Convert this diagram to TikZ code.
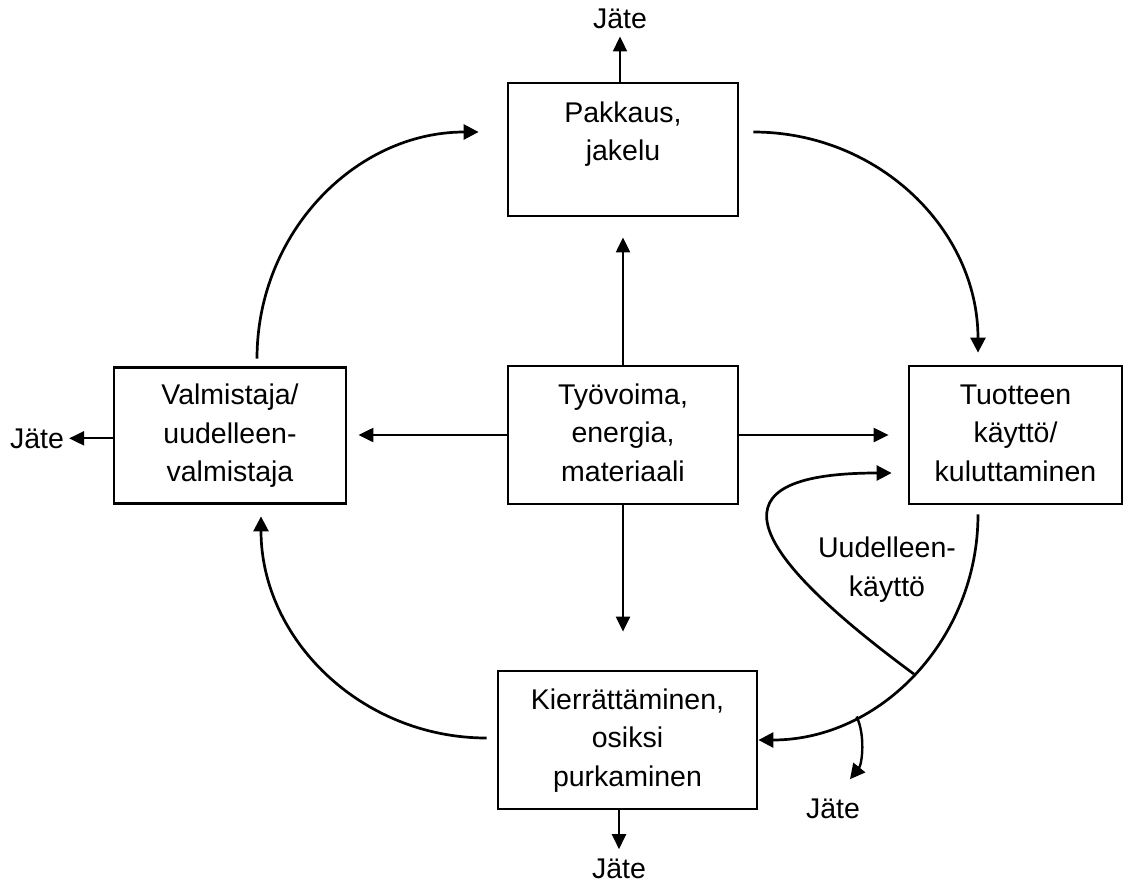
\documentclass[tikz,border=0pt]{standalone}
\usepackage{fontspec}
\setmainfont{Liberation Sans}
\usetikzlibrary{arrows.meta}
\begin{document}
\begin{tikzpicture}[x=1pt,y=-1pt,
  txt/.style={font=\fontsize{28.5}{38.5}\selectfont},
  box/.style={txt,draw,line width=2.8pt,inner sep=0pt,align=center},
  lbl/.style={txt,inner sep=0pt},
  flow/.style={line width=2.2pt,-{Triangle[length=15pt,width=14pt]}},
  loopline/.style={line width=2.7pt,-{Triangle[length=15pt,width=15pt]}}]
\useasboundingbox (0,0) rectangle (1130,892);

% process boxes
\node[box,minimum width=230pt,minimum height=133pt] (pak) at (623,149.5) {\rule{0pt}{33.6pt}Pakkaus,\\jakelu\\\strut};
\node[box,minimum width=232pt,minimum height=136pt] (val) at (230,435.5) {\strut Valmistaja/\\uudelleen-\\valmistaja\strut};
\node[box,minimum width=230pt,minimum height=138pt] (tyo) at (623,435) {\strut Työvoima,\\energia,\\materiaali\strut};
\node[box,minimum width=213pt,minimum height=138pt] (tuo) at (1015.5,435) {\strut Tuotteen\\käyttö/\\kuluttaminen\strut};
\node[box,minimum width=259pt,minimum height=138pt] (kie) at (627.5,740) {\strut Kierrättäminen,\\osiksi\\purkaminen\strut};

% waste labels and reuse label
\node[lbl,anchor=base] (j1) at (620,28) {Jäte};
\node[lbl,anchor=base] (j2) at (37,448) {Jäte};
\node[lbl,anchor=base] (j3) at (619,878) {Jäte};
\node[lbl,anchor=base] (j4) at (833,818) {Jäte};
\node[lbl,align=center] (reu) at (887,569.5) {\strut Uudelleen-\\käyttö\strut};

% inputs from the centre box
\draw[flow,shorten >=20pt] (tyo.north) -- (tyo.north |- pak.south);
\draw[flow,shorten >=11pt] (tyo.west) -- (val.east |- tyo.west);
\draw[flow,shorten >=19pt] (tyo.east) -- (tuo.west |- tyo.east);
\draw[flow,shorten >=38pt] (tyo.south) -- (tyo.south |- kie.north);

% waste outputs
\draw[flow,shorten >=8pt] (j1.south |- pak.north) -- (j1.south);
\draw[flow,shorten >=5pt] (j2.east -| val.west) -- (j2.east);
\draw[flow,shorten >=9pt] (j3.north |- kie.south) -- (j3.north);

% life cycle loop
\draw[loopline] ([shift={(27,-7.5)}]val.north) .. controls +(0,-126) and +(-123,0) .. ([shift={(-28,-17.5)}]pak.west);
\draw[loopline] ([shift={(14,-17.5)}]pak.east) .. controls +(125,0) and +(0,-123) .. ([shift={(-37.5,-12)}]tuo.north);
\draw[loopline] ([shift={(-37.5,9)}]tuo.south) .. controls +(0,125) and +(122,0) .. (kie.east)
  coordinate[pos=0.5] (rj) coordinate[pos=0.71] (br);
\draw[loopline] ([shift={(-10,-2)}]kie.west) .. controls +(-125,0) and +(0,123) .. ([shift={(31,11.5)}]val.south);

% reuse loop and waste branch
\draw[loopline] (rj) .. controls +(-198,-146) and +(-160,0) .. ([shift={(-16,38)}]tuo.west);
\draw[line width=2.4pt,-{Triangle[length=15pt,width=15pt]}] (br) .. controls +(9,19) and +(12,-15) .. ([shift={(17,-19)}]j4.north);
\end{tikzpicture}
\end{document}
